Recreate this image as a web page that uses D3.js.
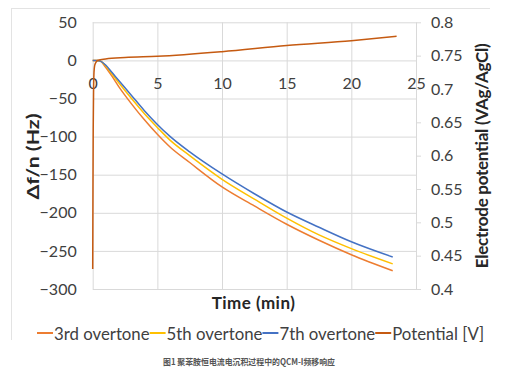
<!DOCTYPE html>
<html>
<head>
<meta charset="utf-8">
<script src="https://cdn.jsdelivr.net/npm/d3@7"></script>
<style>
body { margin: 0; background: #fff; }
text { font-family: Lato, "Open Sans", sans-serif; }
</style>
</head>
<body>
<svg width="522" height="374"></svg>
<script>
// time (min) and frequency shift per overtone (Hz)
var timeOvertone = [0, 0.3, 0.6, 1, 1.5, 2, 3, 4, 5, 6, 7.5, 10, 12.5, 15, 17.5, 20, 23.2];
var third   = [0, 0, -1, -9, -21, -34, -57, -78, -97, -114, -134, -166, -191, -215, -236, -255, -276];
var fifth   = [0, 0, -1, -7, -18, -29, -50, -70, -88, -105, -125, -156, -182, -207, -229, -247, -267];
var seventh = [0, 0, -1, -6, -16, -26, -46, -66, -84, -100, -120, -149, -175, -199, -219, -238, -258];

// electrode potential (V vs Ag/AgCl)
var timePotential = [0, 0.02, 0.04, 0.07, 0.1, 0.15, 0.25, 0.4, 1, 2.5, 5, 10, 15, 20, 23.5];
var potential = [0.43, 0.55, 0.64, 0.70, 0.725, 0.735, 0.740, 0.743, 0.745, 0.7472, 0.749, 0.756, 0.7652, 0.7725, 0.779];

var xTicks = [0, 5, 10, 15, 20, 25];
var leftTicks = [50, 0, -50, -100, -150, -200, -250, -300];
var rightTicks = [0.4, 0.45, 0.5, 0.55, 0.6, 0.65, 0.7, 0.75, 0.8];

var seriesNames = ["3rd overtone", "5th overtone", "7th overtone", "Potential [V]"];
var colors = ["#ED7D31", "#FFC000", "#4472C4", "#C55A11"];

var svg = d3.select("svg");
var plotL = 92.7, plotR = 416, plotT = 22.3, plotB = 289;

var x = d3.scaleLinear().domain([0, 25]).range([plotL, plotR]);
var yL = d3.scaleLinear().domain([-300, 50]).range([plotB, plotT]);
var yR = d3.scaleLinear().domain([0.4, 0.8]).range([plotB, plotT]);

// outer chart frame (top and left edges are visible)
svg.append("line").attr("x1", 11).attr("x2", 490).attr("y1", 8.5).attr("y2", 8.5)
    .attr("stroke", "#e3e3e3");
svg.append("line").attr("x1", 11.5).attr("x2", 11.5).attr("y1", 8).attr("y2", 340)
    .attr("stroke", "#e3e3e3");

// gridlines
var gy = svg.append("g").attr("transform", "translate(" + plotL + ",0)")
    .call(d3.axisLeft(yL).tickValues(leftTicks).tickSize(-(plotR - plotL)).tickFormat(""));
var gx = svg.append("g").attr("transform", "translate(0," + plotB + ")")
    .call(d3.axisBottom(x).tickValues(xTicks).tickSize(-(plotB - plotT)).tickFormat(""));
[gy, gx].forEach(function(g) {
    g.select(".domain").remove();
    g.selectAll("line").attr("stroke", "#d9d9d9").attr("stroke-width", 1);
});

// left axis labels
var ay = svg.append("g").attr("transform", "translate(" + plotL + ",0)")
    .call(d3.axisLeft(yL).tickValues(leftTicks).tickSize(0).tickPadding(16));
// x axis labels sit under the zero line
var ax = svg.append("g").attr("transform", "translate(0," + yL(0) + ")")
    .call(d3.axisBottom(x).tickValues(xTicks).tickSize(0).tickPadding(17));
// right axis
var ar = svg.append("g").attr("transform", "translate(" + plotR + ",0)")
    .call(d3.axisRight(yR).tickValues(rightTicks).tickSize(5).tickPadding(10)
        .tickFormat(function(d) { return String(+d.toFixed(2)); }));
[ay, ax, ar].forEach(function(g) {
    g.select(".domain").remove();
    g.selectAll("line").attr("stroke", "#d9d9d9");
    g.selectAll("text").attr("fill", "#404040").style("font-size", "16px")
        .style("font-family", "Lato, 'Open Sans', sans-serif");
});

// series
var lineL = d3.line()
    .x(function(d) { return x(d[0]); })
    .y(function(d) { return yL(d[1]); })
    .curve(d3.curveMonotoneX);
var lineR = d3.line()
    .x(function(d) { return x(d[0]); })
    .y(function(d) { return yR(d[1]); })
    .curve(d3.curveMonotoneX);

[third, fifth, seventh].forEach(function(vals, i) {
    var pts = vals.map(function(v, j) { return [timeOvertone[j], v]; });
    svg.append("path").datum(pts)
        .attr("d", lineL)
        .attr("fill", "none")
        .attr("stroke", colors[i])
        .attr("stroke-width", 1.5);
});
svg.append("path")
    .datum(potential.map(function(v, j) { return [timePotential[j], v]; }))
    .attr("d", lineR)
    .attr("fill", "none")
    .attr("stroke", colors[3])
    .attr("stroke-width", 1.5);

// axis titles
svg.append("text")
    .attr("transform", "translate(32,156.5) rotate(-90)")
    .attr("text-anchor", "middle").attr("dominant-baseline", "central")
    .attr("textLength", 86).attr("lengthAdjust", "spacingAndGlyphs")
    .style("font-size", "17px").style("font-weight", "bold").attr("fill", "#262626")
    .text("Δf/n (Hz)");
svg.append("text")
    .attr("transform", "translate(481,155.8) rotate(-90)")
    .attr("text-anchor", "middle").attr("dominant-baseline", "central")
    .attr("textLength", 225).attr("lengthAdjust", "spacing")
    .style("font-size", "17px").style("font-weight", "bold").attr("fill", "#262626")
    .text("Electrode potential (VAg/AgCl)");
svg.append("text")
    .attr("x", 253.3).attr("y", 302)
    .attr("text-anchor", "middle").attr("dominant-baseline", "central")
    .attr("textLength", 83).attr("lengthAdjust", "spacing")
    .style("font-size", "17px").style("font-weight", "bold").attr("fill", "#262626")
    .text("Time (min)");

// legend
var legend = svg.append("g");
var lx = 37;
seriesNames.forEach(function(name, i) {
    legend.append("line")
        .attr("x1", lx).attr("x2", lx + 16)
        .attr("y1", 333).attr("y2", 333)
        .attr("stroke", colors[i]).attr("stroke-width", 2);
    var t = legend.append("text")
        .attr("x", lx + 17).attr("y", 333)
        .attr("dominant-baseline", "central")
        .style("font-size", "16.8px").attr("fill", "#404040")
        .text(name);
    lx = lx + 17 + t.node().getComputedTextLength();
});

// caption
svg.append("text")
    .attr("x", 249).attr("y", 361)
    .attr("text-anchor", "middle").attr("dominant-baseline", "central")
    .attr("textLength", 172).attr("lengthAdjust", "spacingAndGlyphs")
    .style("font-size", "8.5px").style("font-weight", "bold")
    .style("font-family", "'Noto Sans CJK SC', sans-serif")
    .attr("fill", "#555")
    .text("图1 聚苯胺恒电流电沉积过程中的QCM-I频移响应");
</script>
</body>
</html>
